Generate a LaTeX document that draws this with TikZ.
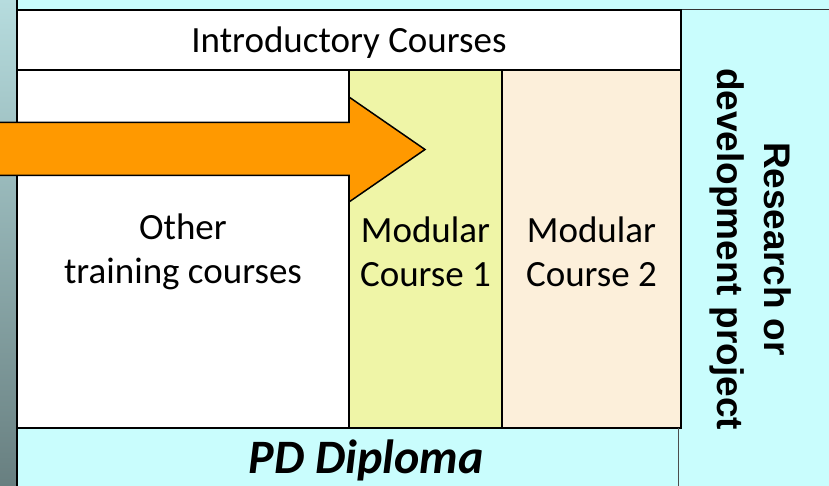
\documentclass[tikz,border=0pt]{standalone}
\usepackage{fontspec}
\setmainfont{Carlito}
\newfontfamily\arialb{Liberation Sans}
\definecolor{cyanc}{HTML}{C9FDFD}
\definecolor{stripTop}{HTML}{B6DCDE}
\definecolor{stripBot}{HTML}{687F80}
\definecolor{modA}{HTML}{EFF5A7}
\definecolor{modB}{HTML}{FCEFDA}
\definecolor{orangeA}{HTML}{FF9900}
\tikzset{
  col/.style={draw=black, line width=1.5pt, inner sep=0pt, minimum height=358pt},
  lbl/.style={align=center, inner sep=0pt, font=\fontsize{37}{44}\selectfont},
}
\begin{document}
\begin{tikzpicture}[x=1pt,y=-1pt]
\useasboundingbox (0,0) rectangle (829,486);
\fill[cyanc] (0,0) rectangle (829,486);
\shade[top color=stripTop, bottom color=stripBot] (0,0) rectangle (16,486);
\draw[line width=0.8pt, black!80] (16,9) -- (829,9);
% columns
\node[col, fill=white, minimum width=332pt] (other) at (183,249) {};
\node[col, fill=modA, minimum width=153pt] (mod1) at (425.5,249) {};
\node[col, fill=modB, minimum width=179pt] (mod2) at (591.5,249) {};
\node[lbl] (otherT) at (183,252) {Other\\training courses};
\node[lbl] (mod1T) at (425.5,252) {Modular\\Course 1};
\node[lbl] (mod2T) at (591.5,252) {Modular\\Course 2};
% introductory
\node[col, fill=white, minimum width=664pt, minimum height=60pt] (intro) at (349,40) {};
\node[lbl] (introT) at (349,43) {Introductory Courses};
% diploma
\node[inner sep=0pt, minimum width=661pt, minimum height=58pt] (pd) at (347.5,457) {};
\node[inner sep=0pt, font=\fontsize{48}{58}\selectfont\bfseries\itshape] (pdT) at (366,460) {PD Diploma};
\draw[line width=0.8pt, black!70] (pd.north east) -- (pd.south east);
% left border line
\draw[line width=2pt] (16.5,0) -- (16.5,486);
% arrow
\draw[fill=orangeA, line width=1.5pt, line join=miter]
  (-5,122.5) -- (349,122.5) -- (349,97) -- (425,149.5) -- (349,202) -- (349,175.5) -- (-5,175.5);
% research
\node[rotate=-90, align=center, inner sep=0pt,
  font=\arialb\bfseries\fontsize{37}{47}\selectfont] (rd) at (751,249) {Research or\\development project};
\end{tikzpicture}
\end{document}
